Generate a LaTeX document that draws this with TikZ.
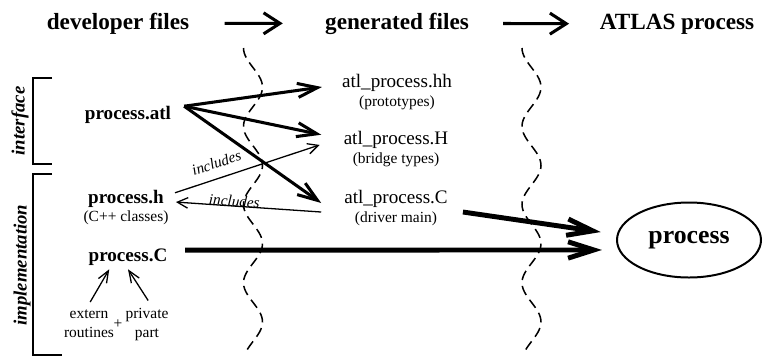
\documentclass[tikz,border=0pt]{standalone}
\usepackage{fontspec}
\setmainfont{Liberation Serif}
\usetikzlibrary{arrows.meta,positioning,shapes.geometric}

\begin{document}
\begin{tikzpicture}[
  x=0.03cm, y=-0.03cm,
  node distance=4pt,
  title/.style={font=\fontsize{19.8}{23}\selectfont\bfseries, inner sep=0pt, anchor=base},
  devfile/.style={font=\fontsize{16.3}{19}\selectfont\bfseries, inner sep=0pt, anchor=base},
  genfile/.style={font=\fontsize{16.3}{19}\selectfont, inner sep=0pt, anchor=base},
  note/.style={font=\fontsize{13.2}{16.2}\selectfont, inner sep=0pt, align=center},
  incltext/.style={font=\fontsize{13}{15}\selectfont\itshape, inner sep=0pt, sloped},
  side/.style={font=\fontsize{16}{19}\selectfont\bfseries\itshape, rotate=90, inner sep=0pt},
  wave/.style={dash pattern=on 8.5pt off 5pt, line width=1.3pt},
  bracket/.style={line width=1.5pt},
  stage/.style={line width=2.6pt, -{Straight Barb[length=14pt,width=18pt]}},
  genarrow/.style={line width=2.6pt, -{Straight Barb[length=17pt,width=12pt]}},
  build/.style={line width=4.2pt, -{Straight Barb[length=22pt,width=14pt]}},
  incl/.style={line width=1.1pt, -{Straight Barb[length=9pt,width=9pt]}},
  partarrow/.style={line width=1.1pt, -{Straight Barb[length=10pt,width=8pt]}}
]
\useasboundingbox (0,0) rectangle (763,359);

% column titles
\node[title] (dev) at (118,29) {developer files};
\node[title] (gen) at (397,29) {generated files};
\node[title] (atlas) at (677,29) {ATLAS process};
\draw[stage, shorten <=30pt, shorten >=36pt] (dev.east) -- (gen.west);
\draw[stage, shorten <=29pt, shorten >=26pt] (gen.east) -- (atlas.west);

% stage borders
\draw[wave] plot[domain=48:353, samples=120, smooth] ({253-9.5*cos((\x-48)*4.6)}, \x);
\draw[wave] plot[domain=48:353, samples=120, smooth] ({531.5-9.5*cos((\x-48)*4.6)}, \x);

% brackets
\draw[bracket] (52,78) -- (33,78) -- (33,164) -- (52,164);
\draw[bracket] (52,174) -- (33,174) -- (33,355) -- (62,355);
\node[side] (iface) at (20,121) {interface};
\node[side] (impl) at (22,265) {implementation};

% developer files
\node[devfile] (atl) at (128,119) {process.atl};
\node[devfile] (hdr) at (126,203) {process.h};
\node[note, below=3pt of hdr] (cls) {(C++ classes)};
\node[devfile] (src) at (128,261) {process.C};
\node[note, anchor=base] (ext) at (89,337) {extern\\routines};
\node[note, anchor=base] (plus) at (118,328) {+};
\node[note, anchor=base] (priv) at (147,337) {private\\part};

% generated files
\node[genfile] (hh) at (397,87) {atl\_process.hh};
\node[note, below=of hh] (proto) {(prototypes)};
\node[genfile] (bigH) at (396,144) {atl\_process.H};
\node[note, below=of bigH] (bridge) {(bridge types)};
\node[genfile] (drv) at (396,203) {atl\_process.C};
\node[note, below=of drv] (drvnote) {(driver main)};

% the process
\node[draw, ellipse, line width=1.7pt, minimum width=4.32cm, minimum height=2.25cm,
  font=\fontsize{22}{26}\selectfont\bfseries] (proc) at (689,240) {process};

% connectors
\coordinate (fork) at ([xshift=11pt,yshift=7pt]atl.east);
\draw[genarrow] (fork) -- ([xshift=-17pt]hh.base west);
\draw[genarrow] (fork) -- ([xshift=-19pt,yshift=4pt]bigH.west);
\draw[genarrow] (fork) -- ([xshift=-19.5pt]drv.base west);
\draw[incl] ([xshift=9.4pt,yshift=4.8pt]hdr.east)
  -- node[incltext, pos=0.32, above=8pt] {includes} ([xshift=-20.4pt,yshift=-0.8pt]bigH.base west);
\draw[incl] ([xshift=-19.5pt,yshift=-7.7pt]drv.base west)
  -- node[incltext, pos=0.6, above=-1pt] {includes} ([xshift=10.2pt,yshift=0.8pt]hdr.base east);
\draw[build] ([xshift=15pt,yshift=5.6pt]src.east) -- ([xshift=-12pt,yshift=-8.5pt]proc.west);
\draw[build] ([xshift=12.8pt,yshift=-7.7pt]drv.base east) -- ([xshift=-13pt,yshift=6.8pt]proc.west);
\draw[partarrow] ([xshift=1pt,yshift=6pt]ext.north) -- ([xshift=-16pt,yshift=-3.4pt]src.south);
\draw[partarrow] ([xshift=1pt,yshift=6pt]priv.north) -- ([yshift=-3.4pt]src.south);
\end{tikzpicture}
\end{document}
